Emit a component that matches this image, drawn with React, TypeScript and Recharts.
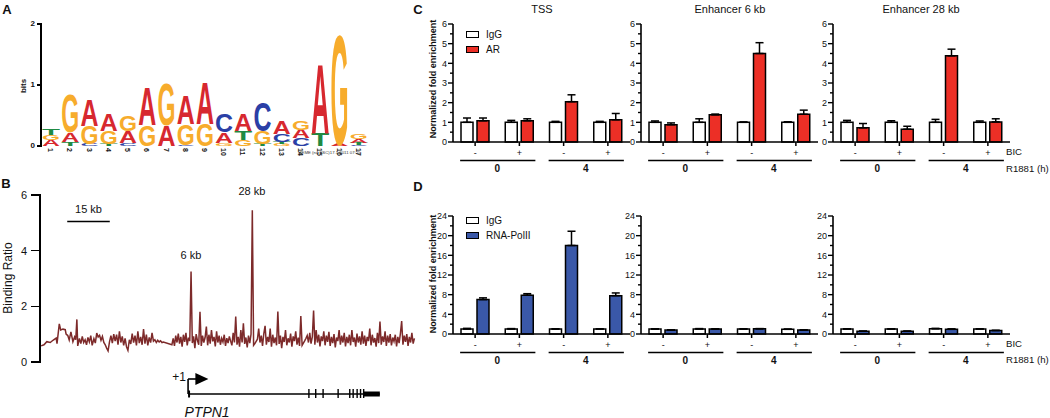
import React from 'react';
import {
  BarChart,
  Bar,
  XAxis,
  YAxis,
  ErrorBar,
  LineChart,
  Line,
  ComposedChart,
  Scatter,
  ReferenceLine,
  ReferenceDot,
  ReferenceArea,
} from 'recharts';

const FONT = '"Liberation Sans", Arial, Helvetica, sans-serif';

// ---------- panel A: motif logo (letters bottom -> top, heights in bits)
const logoPositions = ['1', '2', '3', '4', '5', '6', '7', '8', '9', '10', '11', '12', '13', '14', '15', '16', '17'];
const logoLetters = ['AGT', 'TAG', 'CGA', 'TGA', 'CAG', 'GA', 'AG', 'CGA', 'GA', 'GAC', 'GTA', 'TGC', 'GTCA', 'CAG', 'TA', 'AG', 'CTAG'];
const logoBits = [
  [0.1, 0.08, 0.11],
  [0.07, 0.16, 0.62],
  [0.03, 0.3, 0.43],
  [0.04, 0.21, 0.28],
  [0.05, 0.19, 0.25],
  [0.34, 0.64],
  [0.34, 0.69],
  [0.02, 0.34, 0.48],
  [0.36, 0.69],
  [0.05, 0.18, 0.3],
  [0.1, 0.15, 0.29],
  [0.03, 0.21, 0.48],
  [0.03, 0.04, 0.12, 0.21],
  [0.13, 0.14, 0.14],
  [0.21, 1.16],
  [0.03, 1.82],
  [0.02, 0.03, 0.06, 0.08],
];
const logoTicks = [0, 1, 2];
const letterColors: Record<string, string> = { A: '#d7282f', C: '#2b3fa6', G: '#f7ac2c', T: '#1f8a43' };

// ---------- panel B: binding ratio along the locus (kb from window start)
const sparseProbes: [number, number][] = [
  [0, 0.58], [1.0, 0.62], [2.0, 0.73], [3.2, 0.7], [4.3, 0.79], [5.3, 0.86], [5.6, 0.66], [6.4, 1.37],
  [6.9, 1.15], [7.7, 1.18], [8.5, 1.16], [8.8, 1.0], [9.4, 0.95], [9.9, 0.79], [10.5, 1.08], [11.2, 0.73],
  [11.8, 0.9], [12.2, 0.8], [12.6, 1.53], [12.9, 0.58], [13.5, 0.85], [14.0, 0.66], [14.5, 0.92], [15.0, 0.7],
  [15.5, 0.8], [16.0, 0.62], [16.5, 0.88], [17.0, 0.72], [17.5, 0.95], [18.0, 0.6], [18.6, 0.84], [19.1, 0.68],
  [19.6, 1.04], [20.1, 0.9], [20.6, 0.96], [21.1, 0.78], [21.6, 0.92], [22.1, 0.7], [22.6, 0.62], [23.1, 0.5],
  [23.6, 0.4], [24.1, 0.72], [24.6, 0.95], [25.1, 0.68], [25.6, 1.0], [26.1, 0.75], [26.6, 0.98], [27.1, 0.62],
  [27.6, 1.1], [28.1, 0.7], [28.6, 0.92], [29.1, 0.6], [29.6, 0.85], [30.1, 0.55], [30.6, 0.42], [31.1, 0.8],
  [31.6, 0.65], [32.1, 1.02], [32.6, 0.7], [33.1, 0.95], [33.6, 0.6], [34.1, 1.1], [34.6, 0.68], [35.1, 0.9],
  [35.6, 0.62], [36.1, 1.18], [36.6, 0.66], [37.1, 0.98], [37.6, 0.6], [38.1, 0.88], [38.6, 0.7], [39.1, 1.05],
  [39.6, 0.75], [40.1, 0.8], [40.6, 0.7], [41.1, 0.78], [41.6, 0.72], [42.1, 0.76], [42.6, 0.7], [43.1, 0.72],
];
const denseStartKb = 46.1;
const denseStepKb = 0.45;
const denseRatios = [
  0.62, 0.85, 0.58, 0.95, 0.7, 1.02, 0.66, 0.9, 0.55, 0.98,
  0.72, 1.05, 0.6, 0.88, 0.75, 3.25, 0.68, 0.92, 0.5, 1.0,
  0.78, 0.62, 1.8, 0.58, 0.95, 0.7, 0.88, 1.27, 0.6, 0.98,
  0.66, 1.15, 0.74, 0.9, 0.56, 1.1, 0.7, 0.95, 0.62, 0.85,
  0.72, 0.98, 0.58, 0.86, 0.68, 0.92, 0.75, 0.6, 1.05, 0.7,
  1.63, 0.62, 0.9, 0.55, 1.15, 0.7, 1.39, 0.65, 0.88, 0.52,
  0.95, 0.68, 1.0, 5.45, 0.6, 0.66, 0.74, 0.82, 1.2, 0.7,
  0.95, 0.58, 1.02, 1.3, 0.62, 0.9, 0.72, 1.2, 0.55, 0.98,
  0.68, 0.88, 0.6, 1.81, 0.65, 0.95, 0.5, 0.9, 0.72, 1.15,
  0.6, 0.85, 0.7, 1.02, 0.55, 0.92, 0.75, 1.1, 0.62, 0.88,
  0.58, 1.65, 0.6, 0.68, 0.76, 0.85, 0.95, 0.7, 1.05, 0.66,
  0.9, 1.85, 0.62, 1.15, 0.7, 0.98, 0.56, 0.92, 0.75, 1.1,
  0.6, 0.95, 0.72, 1.08, 0.58, 0.9, 0.68, 1.0, 0.52, 0.88,
  0.75, 1.15, 0.62, 0.95, 0.7, 1.05, 0.56, 0.9, 0.68, 0.98,
  0.6, 1.15, 0.72, 0.88, 0.55, 1.02, 0.7, 0.92, 0.62, 1.1,
  0.66, 0.95, 0.58, 0.9, 0.75, 1.2, 0.6, 0.98, 0.7, 0.86,
  0.55, 1.05, 0.68, 1.45, 0.62, 0.92, 0.72, 1.1, 0.58, 0.95,
  0.7, 1.0, 0.6, 0.88, 0.74, 0.98, 0.56, 0.9, 0.68, 1.02,
  1.47, 0.62, 0.95, 0.72, 1.0, 0.58, 0.9, 0.7, 1.05, 0.66,
  0.85,
];
const bindingTicks = [0, 2, 4, 6];
// gene model of PTPN1 (kb on the same axis)
const tssKb = 51.8;
const geneEndKb = 119.4;
const exonKb = [94.4, 96.8, 99.4, 104.7, 108.8, 110.0, 111.4, 112.6, 113.7];
const lastExonKb: [number, number] = [113.7, 119.4];

// ---------- panels C / D: ChIP enrichment
const regions = ['TSS', 'Enhancer 6 kb', 'Enhancer 28 kb'];
const bicLabels = ['-', '+', '-', '+'];
const r1881Labels = ['0', '0', '4', '4'];
const cNames = ['IgG', 'AR'];
const dNames = ['IgG', 'RNA-PolII'];

const cIgG = [[1.0, 1.0, 1.0, 1.0], [1.0, 1.0, 1.0, 1.0], [1.0, 1.0, 1.0, 1.0]];
const cIgGErr = [[0.22, 0.1, 0.05, 0.05], [0.07, 0.18, 0.02, 0.03], [0.1, 0.08, 0.15, 0.07]];
const cAR = [[1.08, 1.08, 2.05, 1.13], [0.88, 1.38, 4.5, 1.41], [0.72, 0.65, 4.38, 1.02]];
const cARErr = [[0.14, 0.1, 0.35, 0.32], [0.09, 0.04, 0.55, 0.21], [0.22, 0.15, 0.34, 0.16]];

const dIgG = [[1.0, 1.0, 1.0, 1.0], [1.0, 1.0, 1.0, 0.95], [1.0, 1.0, 1.05, 1.0]];
const dIgGErr = [[0.15, 0.1, 0.05, 0.05], [0.05, 0.1, 0.05, 0.05], [0.05, 0.05, 0.1, 0.05]];
const dPol = [[7.0, 7.9, 18.0, 7.8], [0.8, 1.0, 1.05, 0.8], [0.55, 0.55, 0.95, 0.7]];
const dPolErr = [[0.35, 0.3, 2.9, 0.55], [0.05, 0.05, 0.05, 0.05], [0.05, 0.05, 0.1, 0.05]];

const cTicks = [0, 0.5, 1, 1.5, 2, 2.5, 3, 3.5, 4, 4.5, 5, 5.5, 6];
const dTicks = [0, 2, 4, 6, 8, 10, 12, 14, 16, 18, 20, 22, 24];

const AR_RED = '#ec2f26';
const POL_BLUE = '#3a58a8';
const LINE_RED = '#7d2a2a';

const CHIP_PLOT_W = 177;
const CHIP_AXIS_W = 30;
const BAND = CHIP_PLOT_W / 4;
const chipLefts = [423, 611, 803];

// plot geometry shared by charts A and B and their value axes
const LOGO_TOP = 24;
const LOGO_BOTTOM = 146;
const LOGO_LEFT = 41;
const BIND_TOP = 195;
const BIND_BOTTOM = 362;
const BIND_LEFT = 40;

function Txt({ x, y, children, size = 11, weight = 400, italic = false, rotate = 0, anchor = 'middle' }: any) {
  const tx = anchor === 'start' ? '0' : anchor === 'end' ? '-100%' : '-50%';
  return (
    <div
      style={{
        position: 'absolute',
        left: x,
        top: y,
        transform: `translate(${tx}, -50%) rotate(${rotate}deg)`,
        fontSize: size,
        fontWeight: weight,
        fontStyle: italic ? 'italic' : 'normal',
        whiteSpace: 'nowrap',
        lineHeight: 1,
        color: '#111',
        pointerEvents: 'none',
      }}
    >
      {children}
    </div>
  );
}

function LegendBox({ x, y, names, fills }: { x: number; y: number; names: string[]; fills: string[] }) {
  return (
    <div style={{ position: 'absolute', left: x, top: y }}>
      {names.map((n, i) => (
        <div key={n} style={{ display: 'flex', alignItems: 'center', height: 15 }}>
          <div style={{ width: 11, height: 5, border: '1.5px solid #000', background: fills[i] }} />
          <span style={{ marginLeft: 7, fontSize: 10, color: '#111' }}>{n}</span>
        </div>
      ))}
    </div>
  );
}

// value axis for panels A and B (line, tick marks and labels from the tick list)
function ValueAxis({ x, yTop, yBottom, max, ticks, len, lw, size, weight, gap }: any) {
  const h = yBottom - yTop;
  return (
    <>
      <div style={{ position: 'absolute', left: x - lw / 2, top: yTop - lw / 2, width: lw, height: h + lw, background: '#000' }} />
      {ticks.map((t: number) => {
        const y = yBottom - (t / max) * h;
        return (
          <React.Fragment key={t}>
            <div style={{ position: 'absolute', left: x - len, top: y - lw / 2, width: len, height: lw, background: '#000' }} />
            <Txt x={x - len - gap} y={y} size={size} weight={weight} anchor="end">
              {t}
            </Txt>
          </React.Fragment>
        );
      })}
    </>
  );
}

// y tick that draws its own tick mark; minor ticks get no label
function yTick(major: number, len: number, size: number, weight: number, gap: number) {
  return (p: any) => {
    const { x, y, payload } = p;
    const v = payload.value;
    const isMajor = Math.abs(v / major - Math.round(v / major)) < 1e-6;
    return (
      <g>
        <line x1={x - (isMajor ? len : len * 0.6)} x2={x} y1={y} y2={y} stroke="#000" strokeWidth={1.4} />
        {isMajor && (
          <text x={x - len - gap} y={y} dy={size * 0.36} textAnchor="end" fontSize={size} fontWeight={weight} fontFamily={FONT} fill="#111">
            {v}
          </text>
        )}
      </g>
    );
  };
}

function letterShape(layer: number) {
  return (props: any) => {
    const { x, y, width, height, payload } = props;
    const ch = payload && payload.letters ? payload.letters[layer] : undefined;
    if (!ch || !height || height <= 0) return <g />;
    return (
      <g transform={`translate(${x},${y + height}) scale(1,${height / 71.6})`}>
        <text
          x={0}
          y={0}
          fontSize={100}
          fontWeight={700}
          fontFamily={FONT}
          fill={letterColors[ch]}
          textLength={width}
          lengthAdjust="spacingAndGlyphs"
        >
          {ch}
        </text>
      </g>
    );
  };
}

function LogoChart() {
  const rows = logoPositions.map((pos, i) => {
    const row: any = { pos, letters: logoLetters[i] };
    for (let k = 0; k < 4; k++) row[`b${k}`] = logoBits[i][k] ?? 0;
    return row;
  });
  return (
    <div style={{ position: 'absolute', left: 0, top: 0 }}>
      <BarChart width={420} height={165} data={rows} margin={{ top: LOGO_TOP, right: 52, bottom: 0, left: LOGO_LEFT }} barSize={18}>
        <XAxis
          dataKey="pos"
          axisLine={false}
          tickLine={false}
          tickSize={0}
          tickMargin={0}
          interval={0}
          height={165 - LOGO_BOTTOM}
          tick={(p: any) => (
            <text
              transform={`translate(${p.x},${p.y + 2}) rotate(90)`}
              fontSize={7}
              fontWeight={700}
              fontFamily={FONT}
              dominantBaseline="central"
              fill="#111"
            >
              {p.payload.value}
            </text>
          )}
        />
        <YAxis domain={[0, 2]} hide />
        {[0, 1, 2, 3].map((k) => (
          <Bar key={k} dataKey={`b${k}`} stackId="logo" shape={letterShape(k)} isAnimationActive={false} />
        ))}
      </BarChart>
    </div>
  );
}

function textDot(label: string, size: number, italic = false) {
  return (p: any) => (
    <text x={p.cx} y={p.cy} textAnchor="middle" fontSize={size} fontStyle={italic ? 'italic' : 'normal'} fontFamily={FONT} fill="#111">
      {label}
    </text>
  );
}

const xDomain: [number, number] = [-0.4, 131.8];

function BindingChart() {
  const data = [
    ...sparseProbes.map(([kb, ratio]) => ({ kb, ratio })),
    ...denseRatios.map((ratio, i) => ({ kb: +(denseStartKb + i * denseStepKb).toFixed(2), ratio })),
  ];
  return (
    <>
      <div style={{ position: 'absolute', left: 0, top: 170 }}>
        <LineChart width={420} height={196} data={data} margin={{ top: BIND_TOP - 170, right: 5, bottom: 366 - BIND_BOTTOM, left: BIND_LEFT }}>
          <XAxis dataKey="kb" type="number" domain={xDomain} hide />
          <YAxis domain={[0, 6]} hide />
          <ReferenceLine segment={[{ x: 9.2, y: 5.05 }, { x: 24.2, y: 5.05 }]} stroke="#000" strokeWidth={1.5} />
          <ReferenceDot x={16.7} y={5.36} r={0} shape={textDot('15 kb', 11)} />
          <ReferenceDot x={52.8} y={3.7} r={0} shape={textDot('6 kb', 11)} />
          <ReferenceDot x={74.3} y={6} r={0} shape={textDot('28 kb', 11)} />
          <Line dataKey="ratio" type="linear" stroke={LINE_RED} strokeWidth={1.5} dot={false} isAnimationActive={false} />
        </LineChart>
      </div>
      <div style={{ position: 'absolute', left: 0, top: 366 }}>
        <ComposedChart width={420} height={52} data={exonKb.map((kb) => ({ kb, y: 24.5 }))} margin={{ top: 0, right: 5, bottom: 0, left: BIND_LEFT }}>
          <XAxis dataKey="kb" type="number" domain={xDomain} hide />
          <YAxis type="number" domain={[0, 52]} hide />
          <ReferenceLine segment={[{ x: tssKb, y: 24 }, { x: geneEndKb, y: 24 }]} stroke="#000" strokeWidth={1.6} />
          <ReferenceLine segment={[{ x: tssKb, y: 24 }, { x: tssKb, y: 39 }]} stroke="#000" strokeWidth={1.6} />
          <ReferenceLine segment={[{ x: tssKb, y: 39 }, { x: 55, y: 39 }]} stroke="#000" strokeWidth={1.6} />
          <ReferenceArea x1={tssKb} x2={52.5} y1={20.5} y2={27.5} fill="#000" fillOpacity={1} stroke="none" />
          <ReferenceArea x1={lastExonKb[0]} x2={lastExonKb[1]} y1={21.5} y2={26.5} fill="#000" fillOpacity={1} stroke="none" />
          <ReferenceDot
            x={56.5}
            y={39}
            r={0}
            shape={(p: any) => <path d={`M${p.cx - 6},${p.cy - 6} L${p.cx + 7},${p.cy} L${p.cx - 6},${p.cy + 6} Z`} fill="#000" />}
          />
          <ReferenceDot x={48.6} y={37} r={0} shape={textDot('+1', 12)} />
          <ReferenceDot x={58.5} y={1} r={0} shape={textDot('PTPN1', 14, true)} />
          <Scatter
            dataKey="y"
            isAnimationActive={false}
            shape={(p: any) => <line x1={p.cx} x2={p.cx} y1={p.cy - 4.5} y2={p.cy + 4.5} stroke="#000" strokeWidth={1.4} />}
          />
        </ComposedChart>
      </div>
    </>
  );
}

function GroupTick(p: any) {
  const { x, y, index } = p;
  return (
    <g fontFamily={FONT} fill="#111">
      <line x1={x} x2={x} y1={y} y2={y + 4} stroke="#000" strokeWidth={1.5} />
      <text x={x} y={y + 14} textAnchor="middle" fontSize={9}>
        {bicLabels[index]}
      </text>
      {index % 2 === 0 && (
        <>
          <line x1={x - 15} x2={x + BAND + 16} y1={y + 18.5} y2={y + 18.5} stroke="#000" strokeWidth={1.6} />
          <text x={x + BAND / 2} y={y + 30} textAnchor="middle" fontSize={10} fontWeight={700}>
            {r1881Labels[index]}
          </text>
        </>
      )}
    </g>
  );
}

function ChipChart({ left, top, igg, iggErr, target, targetErr, fill, yMax, ticks, major }: any) {
  const rows = bicLabels.map((_, i) => ({
    id: `g${i}`,
    igg: igg[i],
    iggErr: [0, iggErr[i]],
    target: target[i],
    targetErr: [0, targetErr[i]],
  }));
  return (
    <div style={{ position: 'absolute', left, top }}>
      <BarChart
        width={CHIP_AXIS_W + CHIP_PLOT_W + 2}
        height={180}
        data={rows}
        margin={{ top: 24, right: 2, bottom: 0, left: 0 }}
        barSize={12}
        barGap={4}
      >
        <XAxis
          dataKey="id"
          axisLine={{ stroke: '#000', strokeWidth: 1.6 }}
          tickLine={false}
          tickSize={0}
          tickMargin={0}
          interval={0}
          height={38}
          tick={GroupTick}
        />
        <YAxis
          domain={[0, yMax]}
          ticks={ticks}
          interval={0}
          width={CHIP_AXIS_W}
          axisLine={{ stroke: '#000', strokeWidth: 1.6 }}
          tickLine={false}
          tickSize={0}
          tickMargin={0}
          tick={yTick(major, 5, 9, 400, 1)}
        />
        <Bar dataKey="igg" fill="#fff" stroke="#000" strokeWidth={1.5} isAnimationActive={false}>
          <ErrorBar dataKey="iggErr" width={4} stroke="#000" strokeWidth={1.5} direction="y" />
        </Bar>
        <Bar dataKey="target" fill={fill} stroke="#000" strokeWidth={1.5} isAnimationActive={false}>
          <ErrorBar dataKey="targetErr" width={4} stroke="#000" strokeWidth={1.5} direction="y" />
        </Bar>
      </BarChart>
    </div>
  );
}

export default function App() {
  const titleX = [542, 730, 921];
  return (
    <div
      style={{
        position: 'absolute',
        left: 0,
        top: 0,
        width: 1050,
        height: 418,
        background: '#fff',
        overflow: 'hidden',
        fontFamily: FONT,
      }}
    >
      <Txt x={7} y={8.5} size={13} weight={700}>A</Txt>
      <Txt x={6} y={183} size={13} weight={700}>B</Txt>
      <Txt x={418} y={8.5} size={13} weight={700}>C</Txt>
      <Txt x={418} y={186} size={13} weight={700}>D</Txt>

      <Txt x={24} y={86} size={8} weight={700} rotate={-90}>bits</Txt>
      <Txt x={8} y={278} size={12} rotate={-90}>Binding Ratio</Txt>
      <Txt x={433} y={79} size={9} weight={700} rotate={-90}>Normalized fold enrichment</Txt>
      <Txt x={433} y={274} size={9} weight={700} rotate={-90}>Normalized fold enrichment</Txt>

      <LogoChart />
      <BindingChart />
      {regions.map((r, i) => (
        <ChipChart
          key={`c${r}`}
          left={chipLefts[i]}
          top={0}
          igg={cIgG[i]}
          iggErr={cIgGErr[i]}
          target={cAR[i]}
          targetErr={cARErr[i]}
          fill={AR_RED}
          yMax={6}
          ticks={cTicks}
          major={1}
        />
      ))}
      {regions.map((r, i) => (
        <ChipChart
          key={`d${r}`}
          left={chipLefts[i]}
          top={192}
          igg={dIgG[i]}
          iggErr={dIgGErr[i]}
          target={dPol[i]}
          targetErr={dPolErr[i]}
          fill={POL_BLUE}
          yMax={24}
          ticks={dTicks}
          major={4}
        />
      ))}

      {regions.map((r, i) => (
        <Txt key={r} x={titleX[i]} y={9} size={11}>
          {r}
        </Txt>
      ))}
      <LegendBox x={466} y={26.5} names={cNames} fills={['#fff', AR_RED]} />
      <LegendBox x={466} y={212.5} names={dNames} fills={['#fff', POL_BLUE]} />

      <Txt x={1006} y={151.5} size={9.6} anchor="start">BIC</Txt>
      <Txt x={1006} y={168.5} size={9.6} anchor="start">R1881 (h)</Txt>
      <Txt x={1006} y={344} size={9.6} anchor="start">BIC</Txt>
      <Txt x={1006} y={359.5} size={9.6} anchor="start">R1881 (h)</Txt>

      <svg style={{ position: 'absolute', left: 296, top: 149 }} width={80} height={8}>
        <text x={2} y={5} fontSize={4.3} fontFamily={FONT} fill="#333">
          MEME (no SSC)17.1.2011 07:25
        </text>
      </svg>

      <ValueAxis x={LOGO_LEFT} yTop={LOGO_TOP} yBottom={LOGO_BOTTOM} max={2} ticks={logoTicks} len={4} lw={1.2} size={8} weight={700} gap={2} />
      <ValueAxis x={BIND_LEFT} yTop={BIND_TOP} yBottom={BIND_BOTTOM} max={6} ticks={bindingTicks} len={9} lw={1.6} size={11} weight={400} gap={4} />
    </div>
  );
}
